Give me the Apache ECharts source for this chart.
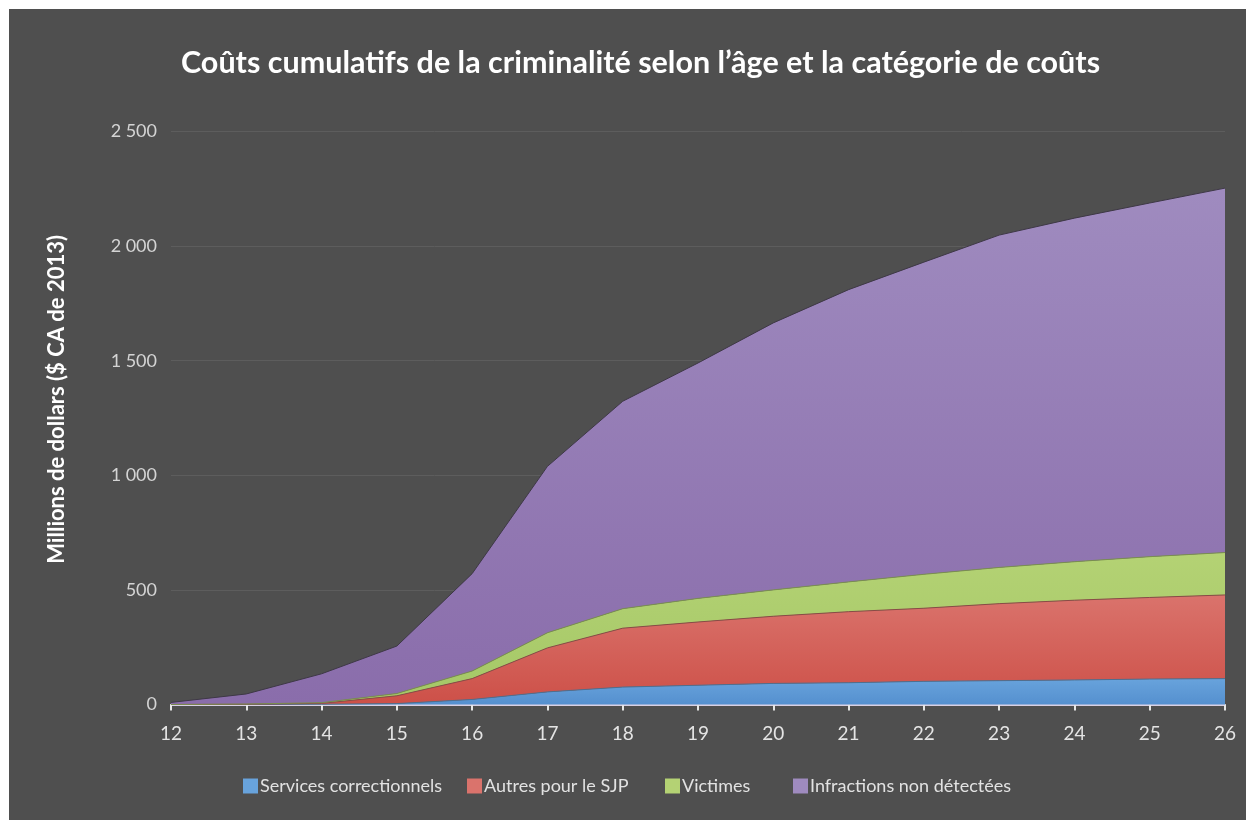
<!DOCTYPE html>
<html>
<head>
<meta charset="utf-8">
<script src="https://cdn.jsdelivr.net/npm/echarts@6/dist/echarts.min.js"></script>
<style>
  html, body { margin: 0; padding: 0; background: #ffffff; }
  #chart { position: absolute; left: 9px; top: 9px; width: 1237px; height: 811px; }
</style>
</head>
<body>
<div id="chart"></div>
<script>
// ages
var ages = ['12','13','14','15','16','17','18','19','20','21','22','23','24','25','26'];

// millions de dollars, par catégorie (valeurs empilées)
var services   = [0, 0, 1, 4, 22, 55, 76, 84, 92, 95, 101, 104, 107, 111, 113];
var autresSJP  = [0, 1, 4, 34, 91, 192, 257, 276, 293, 310, 319, 336, 348, 356, 365];
var victimes   = [0, 1, 3, 10, 33, 66, 85, 103, 115, 130, 148, 158, 168, 178, 185];
var infractions = [9, 44, 126, 207, 425, 726, 905, 1027, 1165, 1275, 1362, 1450, 1499, 1543, 1590];

var seriesNames = ['Services correctionnels', 'Autres pour le SJP', 'Victimes', 'Infractions non détectées'];
var legendLeft = [234, 458, 656, 784];

function grad(top, bottom){
	return new echarts.graphic.LinearGradient(0, 0, 0, 1, [
		{offset: 0, color: top},
		{offset: 1, color: bottom}
	]);
}

function fmt(v){
	// espace comme séparateur de milliers
	return String(v).replace(/\B(?=(\d{3})+(?!\d))/g, ' ');
}

function areaSeries(name, data, top, bottom, lineColor){
	return {
		name: name,
		type: 'line',
		stack: 'total',
		symbol: 'none',
		data: data,
		lineStyle: {width: 1, color: lineColor},
		itemStyle: {color: top},
		areaStyle: {color: grad(top, bottom), opacity: 1}
	};
}

// une légende par item, l'espacement n'est pas régulier
var legends = [];
for (var i = 0; i < seriesNames.length; i++) {
	legends.push({
		data: [seriesNames[i]],
		left: legendLeft[i],
		top: 768,
		itemWidth: 15,
		itemHeight: 15,
		icon: 'rect',
		padding: 0,
		textStyle: {color: '#e2e2e2', fontSize: 18, padding: [0, 0, 0, -3]}
	});
}

var myChart = echarts.init(document.getElementById('chart'));
var option = {
	backgroundColor: '#4f4f4f',
	animation: false,
	textStyle: {fontFamily: 'Lato'},
	title: {
		text: 'Coûts cumulatifs de la criminalité selon l’âge et la catégorie de coûts',
		left: 167,
		top: 34,
		textStyle: {color: '#ffffff', fontSize: 30.5, fontWeight: 'bold', fontFamily: 'Lato'}
	},
	legend: legends,
	graphic: [{
		type: 'text',
		left: 37,
		top: 226,
		rotation: Math.PI / 2,
		style: {
			text: 'Millions de dollars ($ CA de 2013)',
			fill: '#ffffff',
			font: 'bold 22px Lato'
		}
	}],
	grid: {left: 162, right: 21, top: 122.5, bottom: 115.5},
	xAxis: {
		type: 'category',
		boundaryGap: false,
		data: ages,
		axisLine: {lineStyle: {color: '#d8d0e4', width: 2}},
		axisTick: {show: true, length: 6, lineStyle: {color: '#e6e6e6', width: 2}},
		axisLabel: {color: '#e4e4e4', fontSize: 19, margin: 20}
	},
	yAxis: {
		type: 'value',
		min: 0,
		max: 2500,
		interval: 500,
		axisLine: {show: false},
		axisTick: {show: false},
		axisLabel: {color: '#d4d4d4', fontSize: 18, margin: 14, formatter: fmt},
		splitLine: {lineStyle: {color: '#5d5d5d', width: 1}}
	},
	series: [
		areaSeries(seriesNames[0], services, '#68a3dc', '#5590cf', '#4f6f8f'),
		areaSeries(seriesNames[1], autresSJP, '#da736c', '#cd5048', '#8a4a46'),
		areaSeries(seriesNames[2], victimes, '#b4d274', '#a4c766', '#7a8e50'),
		areaSeries(seriesNames[3], infractions, '#9f8bbf', '#8a6dab', '#3e3846')
	]
};
// 使用上面的配置项
myChart.setOption(option);
</script>
</body>
</html>
